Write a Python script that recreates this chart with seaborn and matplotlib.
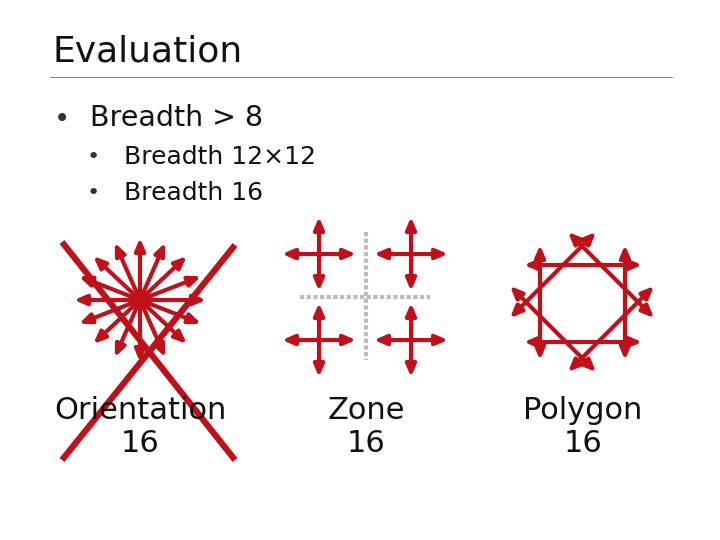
import numpy as np
import matplotlib
matplotlib.use("Agg")
import matplotlib.pyplot as plt
import seaborn as sns

sns.set_style("white")
plt.rcParams['font.family'] = ['DejaVu Sans']

RED = "#c0101a"

# slide text
title = "Evaluation"
bullet = "Breadth > 8"
sub_bullets = ["Breadth 12\u00d712", "Breadth 16"]
labels = ["Orientation\n16", "Zone\n16", "Polygon\n16"]
label_x = [140, 366, 583]

# orientation star: 16 directions
n_dirs = 16
star_center = (140, 300)
star_rx, star_ry = 66, 62

# zone crosses
zone_centers_x = [319, 411, 319, 411]
zone_centers_y = [254, 254, 340, 340]
zone_arm = 37

# polygon: square + diamond edges (double headed)
poly_segments = [
    ((524, 265), (642, 265)), ((524, 342), (642, 342)),
    ((540, 245), (540, 360)), ((625, 245), (625, 360)),
    ((596, 232), (510, 318)), ((568, 232), (654, 318)),
    ((510, 286), (596, 372)), ((654, 286), (568, 372)),
]

fig = plt.figure(figsize=(7.2, 5.4), dpi=100)
ax = fig.add_axes([0, 0, 1, 1])
ax.set_xlim(0, 720)
ax.set_ylim(540, 0)
ax.axis("off")

ax.text(52, 52, title, fontsize=26, va="center", color="#111111")
ax.plot([50, 672], [77, 77], color="#888888", lw=0.8)
ax.text(54, 119, "\u2022", fontsize=20, va="center", color="#333333")
ax.text(90, 118, bullet, fontsize=20.5, va="center", color="#111111")
for i, s in enumerate(sub_bullets):
    y = 157 + i * 36
    ax.text(87, y, "\u2022", fontsize=16, va="center", color="#333333")
    ax.text(124, y, s, fontsize=18, va="center", color="#111111")


def arrow(p0, p1, style="-|>"):
    ax.annotate("", xy=p1, xytext=p0,
                arrowprops=dict(arrowstyle=style + ",head_length=0.7,head_width=0.3",
                                color=RED, lw=3, shrinkA=0, shrinkB=0))


cx, cy = star_center
for k in range(n_dirs):
    a = 2 * np.pi * k / n_dirs
    arrow((cx, cy), (cx + star_rx * np.cos(a), cy + star_ry * np.sin(a)))
ax.plot(cx, cy, "o", color=RED, ms=10)

# dotted separators
ax.plot([366, 366], [232, 360], color="#bbbbbb", lw=3, ls=(0, (1, 0.6)))
ax.plot([300, 430], [297, 297], color="#bbbbbb", lw=3, ls=(0, (1, 0.6)))
for zx, zy in zip(zone_centers_x, zone_centers_y):
    arrow((zx - zone_arm, zy), (zx + zone_arm, zy), "<|-|>")
    arrow((zx, zy - zone_arm), (zx, zy + zone_arm), "<|-|>")

for p0, p1 in poly_segments:
    arrow(p0, p1, "<|-|>")

for x, lab in zip(label_x, labels):
    ax.text(x, 427, lab, fontsize=22, ha="center", va="center",
            linespacing=1.15, color="#111111")

# red cross over orientation
ax.plot([62, 235], [242, 460], color=RED, lw=4.5, solid_capstyle="butt")
ax.plot([235, 62], [245, 460], color=RED, lw=4.5, solid_capstyle="butt")

fig.savefig("out.png", dpi=100)
